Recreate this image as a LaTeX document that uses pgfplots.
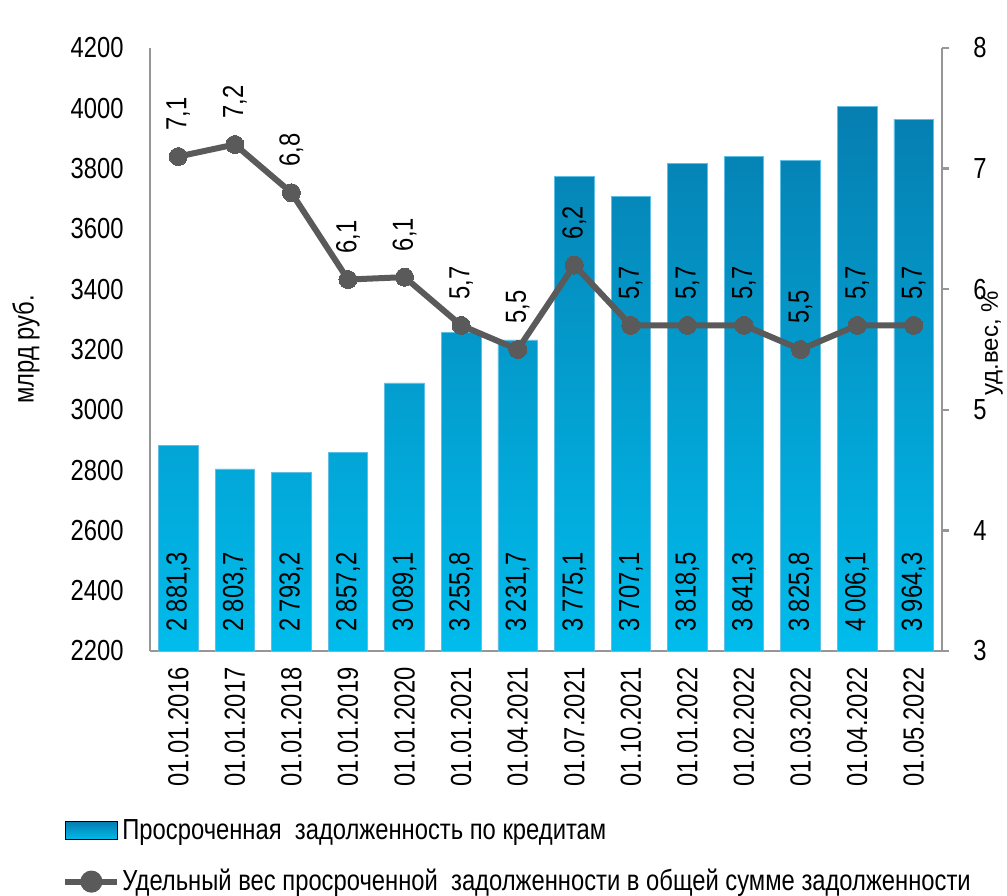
\documentclass[border=0pt]{standalone}
\usepackage{pgfplots}
\pgfplotsset{compat=1.18}
\usepackage{pgfplotstable}
\usepackage{fontspec}
\setmainfont{Liberation Sans}[FakeStretch=0.82]
\newfontfamily\widefont{Liberation Sans}

\definecolor{bartop}{RGB}{6,126,176}
\definecolor{barbot}{RGB}{0,188,236}
\definecolor{barline}{RGB}{95,190,228}
\definecolor{linegray}{RGB}{90,90,90}
\definecolor{axgray}{RGB}{150,150,150}

% x = position, val = overdue debt (bn rub), pct = share (%)
\pgfplotstableread{
x val pct
0 2881.3 7.1
1 2803.7 7.2
2 2793.2 6.8
3 2857.2 6.08
4 3089.1 6.1
5 3255.8 5.7
6 3231.7 5.5
7 3775.1 6.2
8 3707.1 5.7
9 3818.5 5.7
10 3841.3 5.7
11 3825.8 5.5
12 4006.1 5.7
13 3964.3 5.7
}\data

\begin{document}
\begin{tikzpicture}[font=\fontsize{14.5}{16.5}\selectfont]
\pgfplotsset{
  /pgf/number format/assume math mode=true,
  common/.style={scale only axis, width=396pt, height=301.5pt,
    xmin=-0.5, xmax=13.5,
    axis line style={axgray, line width=1.2pt}},
}
\begin{axis}[common, name=main,
  axis x line*=bottom, axis y line*=left,
  ymin=2200, ymax=4200, ytick={2200,2400,...,4200},
  major tick length=0pt,
  yticklabel style={/pgf/number format/1000 sep={}, inner xsep=0pt, xshift=-13pt},
  xtick={0,...,13},
  xticklabels={01.01.2016,01.01.2017,01.01.2018,01.01.2019,01.01.2020,01.01.2021,01.04.2021,01.07.2021,01.10.2021,01.01.2022,01.02.2022,01.03.2022,01.04.2022,01.05.2022},
  xticklabel style={rotate=90, anchor=east, inner xsep=8pt, inner ysep=0pt},
  ylabel={млрд руб.},
  every axis y label/.style={at={([xshift=-62pt]rel axis cs:0,0.50)}, rotate=90, anchor=center},
]
\addplot[ybar, bar width=0.7, draw=barline, line width=0.4pt,
  top color=bartop, bottom color=barbot] table[x=x, y=val]{\data};
\addplot[draw=none, no markers, point meta=explicit,
  nodes near coords={\pgfmathprintnumber[use comma, 1000 sep={\ }, fixed, fixed zerofill, precision=1]{\pgfplotspointmeta}},
  every node near coord/.style={rotate=90, anchor=center, text=black}]
  table[x=x, y expr=2395, meta=val]{\data};
\end{axis}

\begin{axis}[common,
  axis x line=none, xtick=\empty,
  axis y line*=right,
  ymin=3, ymax=8, ytick={3,...,8},
  tick align=outside, major tick length=3.5pt,
  tick style={axgray, line width=1.2pt},
  yticklabel style={inner xsep=0pt, xshift=12pt},
  ylabel={уд.вес, \%},
  every axis y label/.style={at={([xshift=25pt]rel axis cs:1,0.51)}, rotate=90, anchor=center,
    font=\widefont\fontsize{12}{14}\selectfont},
  legend style={at={([xshift=-44pt, yshift=-82pt]rel axis cs:0,0)}, anchor=north west,
    draw=none, fill=none, inner sep=0pt, row sep=9.5pt, cells={anchor=west},
    nodes={inner xsep=1pt}},
]
\addlegendimage{legend image code/.code={\fill[top color=bartop, bottom color=barbot] (0pt,-4.5pt) rectangle (26pt,4.5pt);}}
\addlegendentry{Просроченная\ \ задолженность по кредитам}
\addplot[linegray, line width=3pt, mark=*, mark size=4.5pt,
  mark options={fill=linegray, draw=linegray, line width=0pt},
  legend image code/.code={\draw[linegray, line width=3pt] (0pt,0pt) -- (26pt,0pt); \fill[linegray] (13pt,0pt) circle (4pt);},
  nodes near coords={\pgfmathprintnumber[use comma, fixed, fixed zerofill, precision=1]{\pgfplotspointmeta}},
  every node near coord/.style={rotate=90, anchor=west, inner xsep=13pt, text=black}]
  table[x=x, y=pct]{\data};
\addlegendentry{Удельный вес просроченной\ \ задолженности в общей сумме задолженности}
\end{axis}

\pgfresetboundingbox
\path ([xshift=-75pt, yshift=-122pt]main.south west) rectangle ([xshift=428.5pt, yshift=325.5pt]main.south west);
\end{tikzpicture}
\end{document}
